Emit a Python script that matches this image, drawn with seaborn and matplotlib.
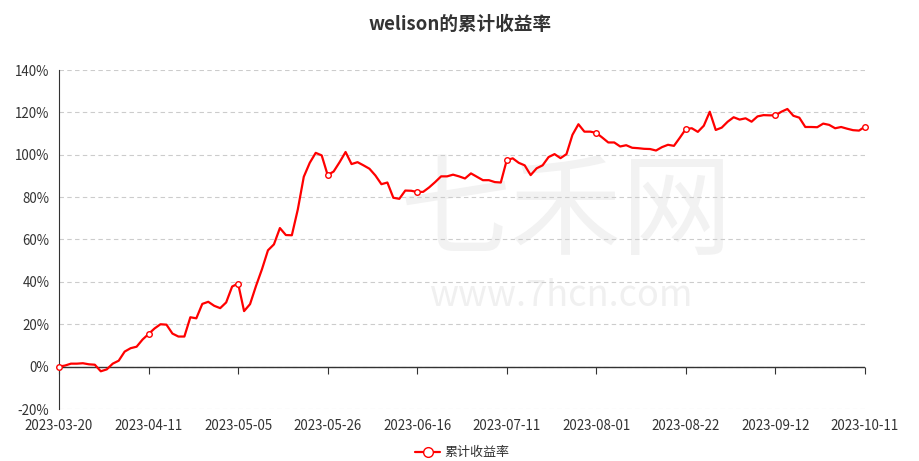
import numpy as np
import pandas as pd
import seaborn as sns
import matplotlib.pyplot as plt
from matplotlib.ticker import FuncFormatter

# x tick labels (one every 15 trading days)
tick_labels = ['2023-03-20', '2023-04-11', '2023-05-05', '2023-05-26', '2023-06-16',
               '2023-07-11', '2023-08-01', '2023-08-22', '2023-09-12', '2023-10-11']
tick_step = 15

# cumulative return in %
returns = [0.0, 0.5, 1.4, 1.4, 1.6, 1.1, 0.9, -2.2, -1.3, 1.4,
           2.8, 7.1, 8.7, 9.4, 12.8, 15.4, 18.0, 20.0, 19.8, 15.6,
           14.2, 14.2, 23.3, 22.8, 29.6, 30.6, 28.7, 27.6, 30.3, 37.8,
           39.2, 26.2, 29.5, 38.1, 46.0, 54.9, 57.7, 65.4, 62.1, 62.0,
           74.2, 89.6, 96.2, 100.9, 99.7, 90.4, 92.1, 96.5, 101.3, 95.6,
           96.5, 95.0, 93.4, 90.2, 86.1, 86.9, 79.7, 79.2, 83.1, 83.0,
           82.4, 82.5, 84.6, 87.1, 89.8, 89.8, 90.6, 89.8, 88.8, 91.2,
           89.6, 88.0, 88.0, 87.1, 86.9, 97.5, 98.3, 96.2, 95.0, 90.4,
           93.6, 95.0, 98.9, 100.3, 98.4, 100.3, 109.4, 114.4, 110.9, 110.9,
           110.3, 108.1, 105.8, 105.8, 103.9, 104.5, 103.3, 103.1, 102.8, 102.7,
           102.0, 103.6, 104.7, 104.2, 108.1, 112.2, 112.5, 110.8, 113.7, 120.3,
           111.7, 112.8, 115.6, 117.7, 116.6, 117.2, 115.6, 118.1, 118.7, 118.6,
           118.6, 120.3, 121.6, 118.4, 117.5, 113.1, 113.1, 113.0, 114.7, 114.1,
           112.5, 113.1, 112.3, 111.6, 111.4, 113.3]

df = pd.DataFrame({'idx': np.arange(len(returns)), 'ret': returns})

sns.set_style('white')
plt.rcParams['font.family'] = ['Noto Sans CJK SC', 'DejaVu Sans']

fig = plt.figure(figsize=(9.2, 4.61), dpi=100)
ax = fig.add_axes([59 / 920, 1 - 409 / 461, 806 / 920, 339 / 461])

# watermark (behind everything in the axes)
ax.text(0.615, 0.535, '七禾网', fontsize=80, color='#f2f2f2', ha='center', va='center',
        transform=fig.transFigure, zorder=0)
ax.text(0.61, 0.357, 'www.7hcn.com', fontsize=26, color='#f0f0f0', ha='center', va='center',
        transform=fig.transFigure, zorder=0)

sns.lineplot(data=df, x='idx', y='ret', ax=ax, color='#ff0000', linewidth=1.6,
             marker='o', markevery=tick_step, markersize=4,
             markerfacecolor='white', markeredgecolor='#ff0000', markeredgewidth=1,
             label='累计收益率', zorder=3, clip_on=False)

ax.set_xlim(0, len(returns) - 1)
ax.set_ylim(-20, 140)
ax.set_yticks(np.arange(-20, 141, 20))
ax.yaxis.set_major_formatter(FuncFormatter(lambda v, p: f'{v:.0f}%'))
ax.set_xticks(np.arange(0, len(returns), tick_step))
ax.set_xticklabels(tick_labels)
ax.set_xlabel('')
ax.set_ylabel('')

ax.grid(axis='y', linestyle=(0, (4, 3)), color='#cccccc', linewidth=0.8, zorder=1)
ax.grid(axis='x', visible=False)
ax.set_axisbelow(True)
for s in ['top', 'right', 'bottom']:
    ax.spines[s].set_visible(False)
ax.spines['left'].set_color('#333333')
ax.spines['left'].set_linewidth(0.8)

ax.tick_params(axis='y', length=4, color='#333333', labelsize=9.6, labelcolor='#333333', pad=3)
ax.tick_params(axis='x', length=0, labelsize=9.6, labelcolor='#333333', pad=7)

# x axis line sits on 0%
ax.axhline(0, color='#333333', linewidth=1, zorder=2)
sec = ax.secondary_xaxis(0.125)
sec.set_xticks(np.arange(0, len(returns), tick_step))
sec.set_xticklabels([])
sec.spines['bottom'].set_visible(False)
sec.tick_params(axis='x', length=5, color='#333333', direction='out')

fig.suptitle('welison的累计收益率', x=0.5, y=0.968, fontsize=13.4, fontweight='bold', color='#333333')

leg = ax.legend(loc='upper center', bbox_to_anchor=(0.5, -0.075), frameon=False,
                fontsize=9.4, handlelength=1.9, handletextpad=0.3)
for t in leg.get_texts():
    t.set_color('#333333')
for h in leg.legend_handles:
    h.set_markersize(7)

fig.savefig('out.png', dpi=100)
